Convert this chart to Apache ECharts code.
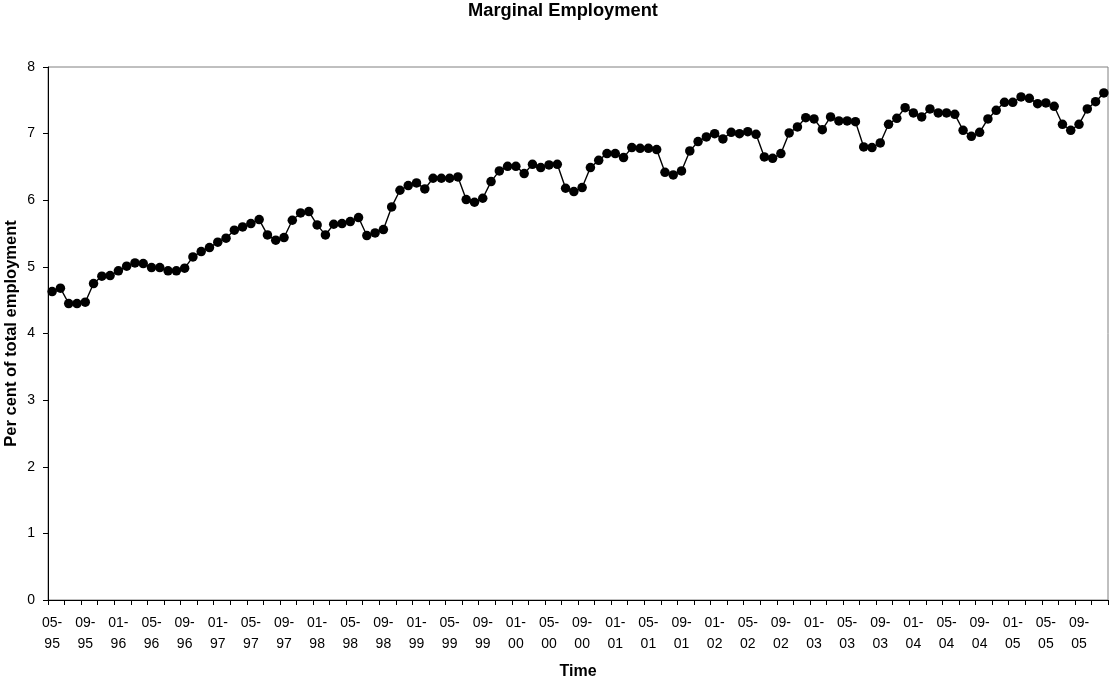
<!DOCTYPE html>
<html>
<head>
<meta charset="utf-8">
<script src="https://cdn.jsdelivr.net/npm/echarts@6/dist/echarts.min.js"></script>
<style>
html,body{margin:0;padding:0;background:#fff;}
#chart{width:1109px;height:682px;}
</style>
</head>
<body>
<div id="chart"></div>
<script>
// Monthly categories from 05-95 to 12-05 (labels "MM-YY")
var startMonth = 5, startYear = 1995, monthCount = 128;
var categories = [];
for (var k = 0; k < monthCount; k++) {
  var m = (startMonth - 1 + k) % 12 + 1;
  var y = startYear + Math.floor((startMonth - 1 + k) / 12);
  categories.push((m < 10 ? '0' : '') + m + '-' + String(y).slice(2));
}

// Per cent of total employment
var values1995to1998 = [4.63,4.68,4.45,4.45,4.47,4.75,4.86,4.87,4.94,5.01,5.06,5.05,4.99,4.99,4.94,4.94,4.98,5.15,5.23,5.29,5.37,5.43,5.55,5.60,5.65,5.71,5.48,5.40,5.44,5.70,5.81,5.83,5.63];
var values1998to2000 = [5.48,5.64,5.65,5.68,5.74,5.47,5.51,5.56,5.90,6.15,6.22,6.26,6.17,6.33,6.33,6.33,6.35,6.01,5.97,6.03,6.28,6.44,6.51,6.51,6.40,6.54,6.49,6.53,6.54,6.18,6.13,6.19];
var values2000to2003 = [6.49,6.60,6.70,6.70,6.64,6.79,6.78,6.78,6.76,6.42,6.38,6.44,6.74,6.88,6.95,7.00,6.92,7.02,7.00,7.03,6.99,6.65,6.63,6.70,7.01,7.10,7.24,7.22,7.06,7.25,7.19,7.19,7.18];
var values2003to2005 = [6.80,6.79,6.86,7.14,7.23,7.39,7.31,7.25,7.37,7.31,7.31,7.29,7.05,6.96,7.02,7.22,7.35,7.47,7.47,7.55,7.53,7.45,7.46,7.41,7.14,7.05,7.14,7.37,7.48,7.61];
var values = values1995to1998.concat(values1998to2000, values2000to2003, values2003to2005);

var yTicks = { min: 0, max: 8, interval: 1 };

var FONT = '"Liberation Sans", Arial, Helvetica, sans-serif';
var chart = echarts.init(document.getElementById('chart'), null, { renderer: 'canvas' });
chart.setOption({
  animation: false,
  backgroundColor: '#ffffff',
  title: {
    text: 'Marginal Employment',
    left: 468, top: 2, padding: 0,
    textStyle: { fontFamily: FONT, fontSize: 18.3, fontWeight: 'bold', color: '#000' }
  },
  grid: {
    left: 48, right: 1, top: 67, bottom: 82,
    outerBoundsMode: 'none',
    containLabel: false,
    show: true, borderColor: '#808080', borderWidth: 1, backgroundColor: 'transparent'
  },
  xAxis: {
    type: 'category',
    data: categories,
    boundaryGap: true,
    name: 'Time',
    nameLocation: 'middle',
    nameGap: 64,
    nameMoveOverlap: false,
    nameTextStyle: { fontFamily: FONT, fontSize: 16, fontWeight: 'bold', color: '#000' },
    axisLine: { lineStyle: { color: '#000', width: 1 } },
    axisTick: { show: true, interval: 1, length: 5, inside: false, lineStyle: { color: '#000' } },
    axisLabel: {
      interval: 3,
      margin: 13,
      fontFamily: FONT, fontSize: 14, color: '#000', lineHeight: 21,
      formatter: function (v) { return v.replace('-', '-\n'); }
    },
    splitLine: { show: false }
  },
  yAxis: {
    type: 'value',
    min: yTicks.min, max: yTicks.max, interval: yTicks.interval,
    name: 'Per cent of total employment',
    nameLocation: 'middle',
    nameGap: 28,
    nameMoveOverlap: false,
    nameTextStyle: { fontFamily: FONT, fontSize: 16.5, fontWeight: 'bold', color: '#000' },
    axisLine: { show: true, lineStyle: { color: '#000', width: 1 } },
    axisTick: { show: true, length: 5, lineStyle: { color: '#000' } },
    axisLabel: { margin: 13, fontFamily: FONT, fontSize: 14, color: '#000' },
    splitLine: { show: false }
  },
  series: [{
    type: 'line',
    data: values,
    symbol: 'circle',
    symbolSize: 9.5,
    showAllSymbol: true,
    itemStyle: { color: '#000' },
    lineStyle: { color: '#000', width: 1.4 }
  }]
});
</script>
</body>
</html>
